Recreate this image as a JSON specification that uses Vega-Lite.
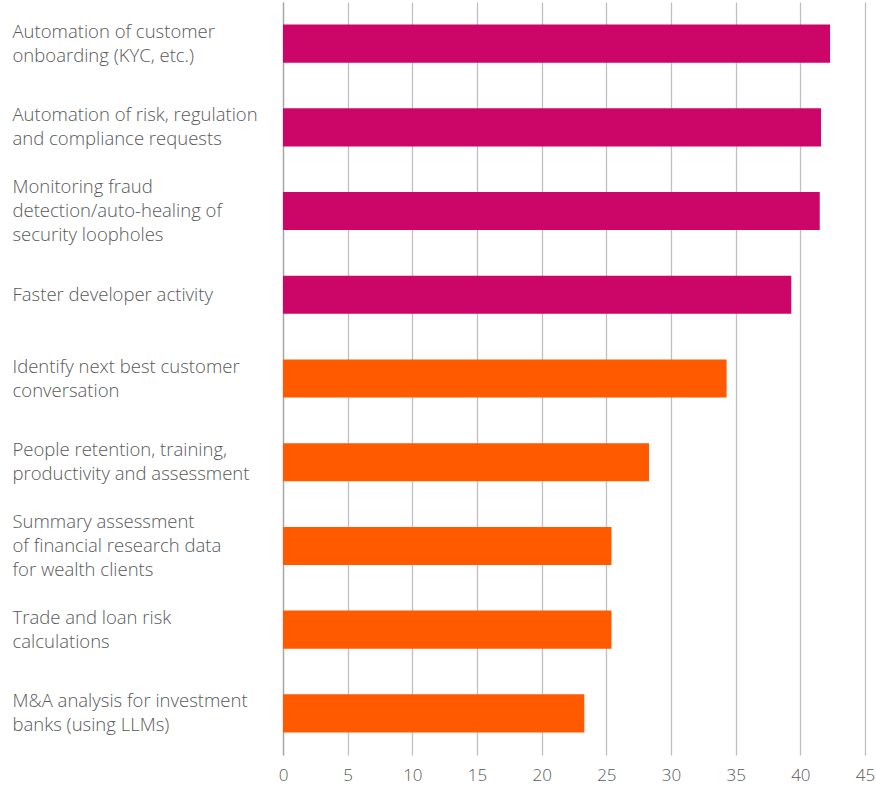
{
  "$schema": "https://vega.github.io/schema/vega-lite/v6.json",
  "autosize": {"type": "none"},
  "padding": {"left": 283, "top": 2, "right": 11, "bottom": 32},
  "width": 582,
  "height": 753,
  "background": "white",
  "config": {"view": {"stroke": null}, "font": "Open Sans"},
  "data": {"values": [
    {"label": "Automation of customer|onboarding (KYC, etc.)", "value": 42.3, "group": "A"},
    {"label": "Automation of risk, regulation|and compliance requests", "value": 41.6, "group": "A"},
    {"label": "Monitoring fraud|detection/auto-healing of|security loopholes", "value": 41.5, "group": "A"},
    {"label": "Faster developer activity", "value": 39.3, "group": "A"},
    {"label": "Identify next best customer|conversation", "value": 34.3, "group": "B"},
    {"label": "People retention, training,|productivity and assessment", "value": 28.3, "group": "B"},
    {"label": "Summary assessment|of financial research data|for wealth clients", "value": 25.4, "group": "B"},
    {"label": "Trade and loan risk|calculations", "value": 25.4, "group": "B"},
    {"label": "M&A analysis for investment|banks (using LLMs)", "value": 23.3, "group": "B"}
  ]},
  "mark": {"type": "bar"},
  "encoding": {
    "y": {
      "field": "label", "type": "nominal", "sort": null,
      "scale": {"paddingInner": 0.545, "paddingOuter": 0.27},
      "axis": {
        "title": null,
        "labelExpr": "split(datum.label, '|')",
        "labelAlign": "left",
        "labelBaseline": "middle",
        "labelOffset": {"expr": "-(length(split(datum.value, '|')) - 1) * 12"},
        "labelPadding": 271,
        "labelLimit": 300,
        "labelFontSize": 18.5,
        "labelFontWeight": 300,
        "labelLineHeight": 24,
        "labelColor": "#595959",
        "labelFont": "Open Sans",
        "ticks": false,
        "domain": true,
        "domainColor": "#a6a6a6",
        "domainWidth": 1.3,
        "grid": false
      }
    },
    "x": {
      "field": "value", "type": "quantitative",
      "scale": {"domain": [0, 45], "nice": false},
      "axis": {
        "title": null,
        "values": [0, 5, 10, 15, 20, 25, 30, 35, 40, 45],
        "grid": true,
        "gridColor": "#bfbfbf",
        "gridWidth": 1.3,
        "domain": false,
        "ticks": false,
        "labelFontSize": 17,
        "labelFontWeight": 300,
        "labelColor": "#595959",
        "labelFont": "Open Sans",
        "labelPadding": 12,
        "labelFlush": false
      }
    },
    "color": {
      "field": "group", "type": "nominal",
      "scale": {"domain": ["A", "B"], "range": ["#CC0669", "#FF5A00"]},
      "legend": null
    }
  }
}
